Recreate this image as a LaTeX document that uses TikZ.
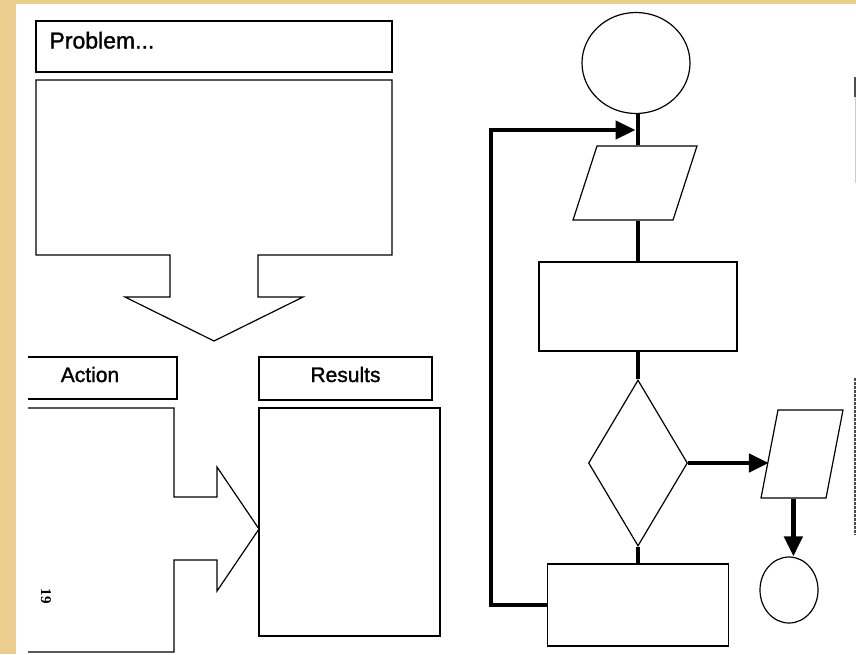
\documentclass[tikz,border=0pt]{standalone}
\usepackage{fontspec}
\setmainfont{Liberation Sans}
\newfontfamily\headfont[FakeBold=1.3]{Liberation Sans}
\newfontfamily\pagefont{Liberation Serif}
\usepackage{tikz}
\usetikzlibrary{shapes.geometric}
\usetikzlibrary{arrows.meta}
\definecolor{parchment}{RGB}{235,206,142}

\begin{document}
\begin{tikzpicture}[x=1pt, y=-1pt,
    pen/.style={line width=1.2pt},
    box/.style={draw, pen, rectangle, inner sep=0pt},
    round/.style={draw, pen, ellipse, inner sep=0pt},
    decision/.style={draw, pen, diamond, inner sep=0pt},
    heading/.style={font=\headfont\fontsize{21}{21}\selectfont},
    flow/.style={line width=4.5pt},
    tip/.style={-{Triangle[length=20pt,width=18pt]}}]
        \useasboundingbox (0,0) rectangle (856,654);
        \fill[parchment] (0,0) rectangle (856,654);
        \fill[white] (16,4) rectangle (856,654);

        % left page: problem, action, results
        \node[box, minimum width=356pt, minimum height=51pt] (problem) at (214,46.5) {};
        \node[heading, font=\headfont\fontsize{23}{23}\selectfont, anchor=base west] (problemtext) at (46,48.5) {Problem...};
        \draw[pen] (36,80) -- (392,80) -- (392,255) -- (258,255) -- (258,297) -- (303,297)
              -- (214,341) -- (125,297) -- (170,297) -- (170,255) -- (36,255) -- cycle;

        \draw[pen] (28,357) -- (177,357) -- (177,399) -- (28,399);
        \node[heading, anchor=base] (action) at (90,382) {Action};
        \node[box, minimum width=173pt, minimum height=43pt] (results) at (345.5,378.5) {};
        \node[heading, anchor=base] (resultstext) at (345.5,382) {Results};

        \draw[pen] (28,408) -- (174,408) -- (174,497) -- (217,497) -- (217,467) -- (259,529)
              -- (217,591) -- (217,560) -- (174,560) -- (174,652) -- (28,652);
        \draw[pen] (259,408) rectangle (440,636);

        \node[font=\pagefont\bfseries\fontsize{15}{15}\selectfont, rotate=-90] (pagenum) at (46,596) {19};

        % right page: flowchart
        \node[round, minimum width=108pt, minimum height=101pt] (start) at (636,63) {};
        \node[box, minimum width=100pt, minimum height=74pt, xslant=0.324] (input) at (635,183) {};
        \node[box, minimum width=198pt, minimum height=89pt] (process) at (638,306.5) {};
        \node[decision, minimum width=99pt, minimum height=166pt] (test) at (638,463) {};
        \node[box, minimum width=181pt, minimum height=82pt] (update) at (638,605) {};
        \node[box, minimum width=65pt, minimum height=88pt, xslant=0.193] (output) at (802,454) {};
        \node[round, minimum width=58pt, minimum height=66pt] (stop) at (789,590) {};

        \coordinate (merge) at (635.5,130);
        \coordinate (bend) at (491,605);

        \draw[flow] (start.south -| process.north) -- (input.north -| process.north);
        \draw[flow] (input.south -| process.north) -- (process.north);
        \draw[flow] (process.south) -- (test.north);
        \draw[flow] (test.south) -- (update.north);
        \draw[flow, tip] (update.west) -- (bend) |- (merge);
        \draw[flow, tip] (test.east) -- (test.east -| output.west);
        \draw[flow, tip] (output.south) -- (output.south |- stop.north);

        % cut-off print at the right edge
        \draw[line width=1.5pt, black!70] (855,77) -- (855,97);
        \draw[line width=1pt, black!20] (855,97) -- (855,183);
        \draw[line width=1.5pt, black!70, dash pattern=on 3pt off 1pt] (855,378) -- (855,535);
      \end{tikzpicture}
\end{document}
